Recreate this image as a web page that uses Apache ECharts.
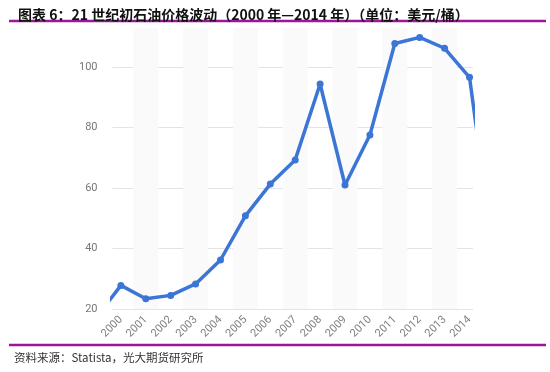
<!DOCTYPE html>
<html><head><meta charset="utf-8">
<script src="https://cdn.jsdelivr.net/npm/echarts@6/dist/echarts.min.js"></script>
<style>html,body{margin:0;padding:0;background:#fff}#c{width:550px;height:372px}</style>
</head><body><div id="c"></div>
<script>
// Data (year, price USD/barrel); 1999 and 2015 lie outside the visible window and are clipped
const years = [1999, 2000, 2001, 2002, 2003, 2004, 2005, 2006, 2007, 2008, 2009, 2010, 2011, 2012, 2013, 2014, 2015];
const prices = [17, 27.8, 23.4, 24.5, 28.3, 36.2, 50.8, 61.3, 69.3, 94.4, 61.0, 77.5, 107.8, 109.8, 106.2, 96.6, 36];
const tickYears = [2000, 2001, 2002, 2003, 2004, 2005, 2006, 2007, 2008, 2009, 2010, 2011, 2012, 2013, 2014];
const yTicks = [20, 40, 60, 80, 100];
const titleText = '图表 6：21 世纪初石油价格波动（2000 年—2014 年）（单位：美元/桶）';
const sourceText = '资料来源：Statista，光大期货研究所';

const chart = echarts.init(document.getElementById('c'), null, {renderer: 'canvas'});
const bands = tickYears.filter(y => y % 2 === 1).map(y => [{xAxis: y - 0.5}, {xAxis: y + 0.5}]);
const purple = '#9c159c';
chart.setOption({
  animation: false,
  title: {
    text: titleText, left: 13, top: 3,
    textStyle: {fontFamily: 'Noto Sans CJK SC', fontWeight: 'bold', fontSize: 14, color: '#111'}
  },
  graphic: [
    {type: 'line', shape: {x1: 9, y1: 21, x2: 546, y2: 21}, style: {stroke: purple, lineWidth: 2.5}},
    {type: 'line', shape: {x1: 9, y1: 345, x2: 546, y2: 345}, style: {stroke: purple, lineWidth: 2.5}},
    {type: 'text', left: 14, top: 352, style: {text: sourceText, font: '11.5px "Noto Sans CJK SC"', fill: '#333'}}
  ],
  grid: {left: 112.5, right: 77, top: 27.7, bottom: 63, containLabel: false},
  xAxis: {
    type: 'value', min: 1999.663, max: 2014.14,
    axisLine: {show: false}, axisTick: {show: false}, splitLine: {show: false},
    axisLabel: {
      customValues: tickYears, rotate: 45, color: '#808080', fontSize: 11, fontFamily: 'Roboto',
      margin: 9, formatter: v => String(v)
    }
  },
  yAxis: {
    type: 'value', min: 20, max: 113, interval: 20,
    axisLine: {show: false}, axisTick: {show: false},
    splitLine: {show: true, showMaxLine: false, lineStyle: {color: '#e4e4e4', width: 1}},
    axisLabel: {
      customValues: yTicks, color: '#777', fontSize: 11, fontFamily: 'Roboto', margin: 15,
      formatter: v => String(v)
    }
  },
  series: [
    {
      type: 'line', data: [], z: 0, silent: true,
      markArea: {silent: true, itemStyle: {color: '#fafafa'}, data: bands}
    },
    {
      type: 'line', z: 5, clip: true,
      data: years.map((y, i) => [y, prices[i]]),
      symbol: 'circle', symbolSize: 7, showAllSymbol: true,
      lineStyle: {color: '#3b76d6', width: 3.5},
      itemStyle: {color: '#3b76d6'}
    }
  ]
});
</script></body></html>
